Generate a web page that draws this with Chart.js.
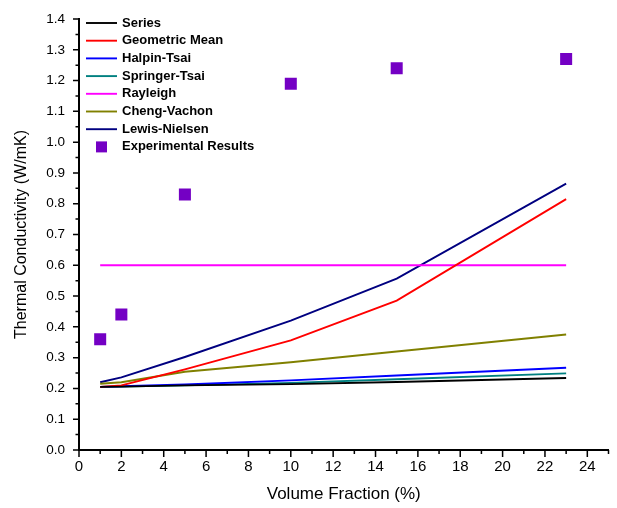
<!DOCTYPE html>
<html>
<head>
<meta charset="utf-8">
<script src="https://cdn.jsdelivr.net/npm/chart.js@4.4.1/dist/chart.umd.min.js"></script>
<style>
  html, body { margin: 0; padding: 0; background: #fff; }
  #wrap { width: 617px; height: 508px; position: relative; }
</style>
</head>
<body>
<div id="wrap"><canvas id="tcChart"></canvas></div>
<script>
// volume fractions (%) where values were read
const volumeFractions = [1, 2, 5, 10, 15, 23];

const seriesModel      = [0.205, 0.206, 0.210, 0.214, 0.221, 0.234];
const geometricMean    = [0.205, 0.210, 0.262, 0.356, 0.485, 0.815];
const halpinTsai       = [0.205, 0.207, 0.213, 0.226, 0.242, 0.267];
const springerTsai     = [0.205, 0.206, 0.210, 0.218, 0.230, 0.249];
const rayleigh         = [0.600, 0.600, 0.600, 0.600, 0.600, 0.600];
const chengVachon      = [0.215, 0.220, 0.254, 0.285, 0.320, 0.375];
const lewisNielsen     = [0.220, 0.236, 0.302, 0.420, 0.557, 0.865];
const experimental     = [0.36, 0.44, 0.83, 1.19, 1.24, 1.27];

const xTicks = [0, 2, 4, 6, 8, 10, 12, 14, 16, 18, 20, 22, 24];

const toPoints = (vals) => volumeFractions.map((x, i) => ({ x: x, y: vals[i] }));

const lineSet = (label, vals, color) => ({
  label: label,
  data: toPoints(vals),
  borderColor: color,
  backgroundColor: color,
  borderWidth: 1.9,
  pointRadius: 0,
  tension: 0,
  fill: false
});

const datasets = [
  lineSet("Series", seriesModel, "#000000"),
  lineSet("Geometric Mean", geometricMean, "#ff0000"),
  lineSet("Halpin-Tsai", halpinTsai, "#0000ff"),
  lineSet("Springer-Tsai", springerTsai, "#008080"),
  lineSet("Rayleigh", rayleigh, "#ff00ff"),
  lineSet("Cheng-Vachon", chengVachon, "#808000"),
  lineSet("Lewis-Nielsen", lewisNielsen, "#000080"),
  {
    label: "Experimental Results",
    data: toPoints(experimental),
    showLine: false,
    pointStyle: "rect",
    pointRadius: 8.5,
    pointHoverRadius: 8.5,
    borderWidth: 0,
    borderColor: "#7400c4",
    backgroundColor: "#7400c4"
  }
];

// outward major/minor tick marks
const tickMarks = {
  id: "tickMarks",
  afterDraw(chart) {
    const ctx = chart.ctx;
    const xs = chart.scales.x, ys = chart.scales.y;
    const area = chart.chartArea;
    ctx.save();
    ctx.strokeStyle = "#000";
    ctx.lineWidth = 1.5;
    ctx.beginPath();
    for (let v = 0; v <= 25; v++) {
      const px = xs.getPixelForValue(v);
      const len = v % 2 === 0 ? 7 : 4;
      ctx.moveTo(px, area.bottom);
      ctx.lineTo(px, area.bottom + len);
    }
    for (let k = 0; k <= 28; k++) {
      const py = ys.getPixelForValue(k * 0.05);
      const len = k % 2 === 0 ? 6 : 3.5;
      ctx.moveTo(area.left, py);
      ctx.lineTo(area.left - len, py);
    }
    ctx.stroke();
    ctx.restore();
  }
};

// legend drawn inside the plot area, top-left
const insideLegend = {
  id: "insideLegend",
  afterDraw(chart) {
    const ctx = chart.ctx;
    const area = chart.chartArea;
    const x0 = area.left + 7;
    let y = area.top + 4;
    ctx.save();
    ctx.font = "bold 13px Arial, 'Liberation Sans', sans-serif";
    ctx.textBaseline = "middle";
    ctx.textAlign = "left";
    chart.data.datasets.forEach((ds) => {
      if (ds.showLine === false) {
        ctx.fillStyle = ds.backgroundColor;
        ctx.fillRect(x0 + 10, y - 5.5, 11, 11);
      } else {
        ctx.strokeStyle = ds.borderColor;
        ctx.lineWidth = 1.9;
        ctx.beginPath();
        ctx.moveTo(x0, y);
        ctx.lineTo(x0 + 31, y);
        ctx.stroke();
      }
      ctx.fillStyle = "#000";
      ctx.fillText(ds.label, x0 + 36, y);
      y += 17.7;
    });
    ctx.restore();
  }
};

new Chart(document.getElementById("tcChart"), {
  type: "line",
  data: { datasets: datasets },
  options: {
    responsive: true,
    maintainAspectRatio: false,
    animation: false,
    layout: { padding: { top: 19, right: 4, bottom: 0, left: 0 } },
    plugins: {
      legend: { display: false },
      tooltip: { enabled: false }
    },
    scales: {
      x: {
        type: "linear",
        min: 0,
        max: 25,
        afterBuildTicks: (scale) => { scale.ticks = xTicks.map((v) => ({ value: v })); },
        afterFit: (scale) => { scale.height = 58; },
        grid: { display: false },
        border: { display: true, color: "#000", width: 2 },
        ticks: {
          color: "#000",
          padding: 0,
          maxRotation: 0,
          autoSkip: false,
          font: { family: "Arial, 'Liberation Sans', sans-serif", size: 15 }
        },
        title: {
          display: true,
          text: "Volume Fraction (%)",
          color: "#000",
          padding: { top: 0, bottom: 3 },
          font: { family: "Arial, 'Liberation Sans', sans-serif", size: 17 }
        }
      },
      y: {
        type: "linear",
        min: 0,
        max: 1.4,
        afterFit: (scale) => { scale.width = 79; },
        grid: { display: false },
        border: { display: true, color: "#000", width: 2 },
        ticks: {
          stepSize: 0.1,
          color: "#000",
          padding: 6,
          autoSkip: false,
          callback: (v) => v.toFixed(1),
          font: { family: "Arial, 'Liberation Sans', sans-serif", size: 13.5 }
        },
        title: {
          display: true,
          text: "Thermal Conductivity (W/mK)",
          color: "#000",
          padding: { top: 12, bottom: 0 },
          font: { family: "Arial, 'Liberation Sans', sans-serif", size: 16 }
        }
      }
    }
  },
  plugins: [tickMarks, insideLegend]
});
</script>
</body>
</html>
